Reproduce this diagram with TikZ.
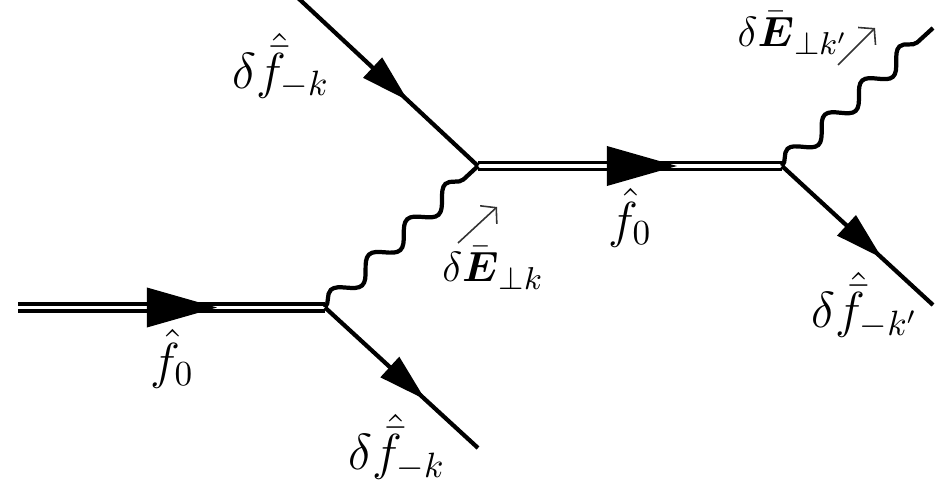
\documentclass[tikz,border=0pt]{standalone}
\usepackage{amsmath,amssymb}
\usetikzlibrary{decorations.pathmorphing,decorations.markings,arrows.meta}
\begin{document}
\begin{tikzpicture}[x=0.01cm,y=-0.01cm,
  font=\fontsize{14.5}{17}\selectfont,
  fermion/.style={line width=1.2pt},
  dfermion/.style={double, line width=1.1pt, double distance=0.9pt},
  photon/.style={line width=1.2pt, decorate, decoration={snake, segment length=#1, amplitude=0.09cm}},
  bigtip/.style={decorate, decoration={markings, mark=at position #1 with {\fill (-0.35cm,0.2cm) -- (0.35cm,0) -- (-0.35cm,-0.2cm) -- cycle;}}},
  smalltip/.style={decorate, decoration={markings, mark=at position #1 with {\fill (-0.24cm,0.14cm) -- (0.24cm,0) -- (-0.24cm,-0.14cm) -- cycle;}}},
  momentum/.style={black!80, line width=0.45pt, -{Straight Barb[length=3pt,width=7pt]}},
  lbl/.style={inner sep=0pt},
  elbl/.style={inner sep=0pt, font=\fontsize{12.5}{15}\selectfont}]
\useasboundingbox (0,0) rectangle (940,488);
% vertices and ends
\coordinate (L) at (18,307.5);
\coordinate (v1) at (325,307.5);
\coordinate (v2) at (478,166);
\coordinate (v3) at (782,166);
\coordinate (T) at (297,-3);
\coordinate (B) at (478,448);
\coordinate (W) at (933,28);
\coordinate (R) at (933,305);
% lines
\draw[dfermion] (L) -- (v1);
\draw[dfermion] (v2) -- (v3);
\draw[fermion] (T) -- (v2);
\draw[fermion] (v1) -- (B);
\draw[fermion] (v3) -- (R);
\draw[photon=0.52cm] (v1) -- (v2);
\draw[photon=0.505cm] (v3) -- (W);
% arrow heads
\path[bigtip=0.534] (L) -- (v1);
\path[bigtip=0.539] (v2) -- (v3);
\path[smalltip=0.515] (T) -- (v2);
\path[smalltip=0.54] (v1) -- (B);
\path[smalltip=0.545] (v3) -- (R);
% labels
\node[lbl] (lt) at (281,66) {$\delta\hat{\bar{f}}_{-k}$};
\node[lbl] (lb) at (397,447) {$\delta\hat{\bar{f}}_{-k}$};
\node[lbl] (lr) at (865,305) {$\delta\hat{\bar{f}}_{-k'}$};
\node[lbl] (f1) at (172,359) {$\hat{f}_0$};
\node[lbl] (f2) at (630,218) {$\hat{f}_0$};
\node[elbl] (e1) at (493,268) {$\delta\bar{\boldsymbol{E}}_{\perp k}$};
\node[elbl] (e2) at (793,33) {$\delta\bar{\boldsymbol{E}}_{\perp k'}$};
% momentum arrows
\coordinate (m1a) at (458,243);
\coordinate (m1b) at (497,207);
\coordinate (m2a) at (838,65);
\coordinate (m2b) at (875,28);
\draw[momentum] (m1a) -- (m1b);
\draw[momentum] (m2a) -- (m2b);
\end{tikzpicture}
\end{document}
